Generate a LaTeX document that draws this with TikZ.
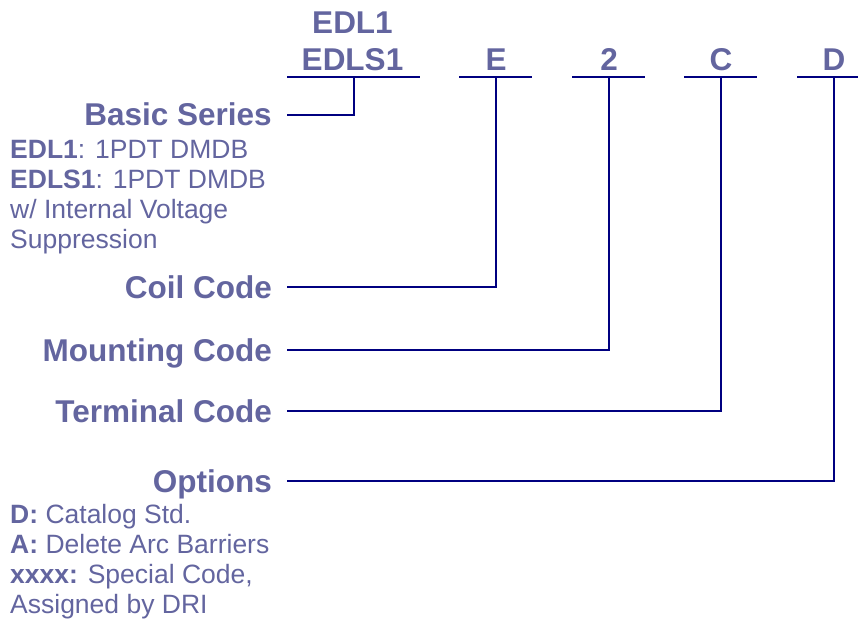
\documentclass[tikz,border=0pt]{standalone}
\usepackage{fontspec}
\setmainfont{Liberation Sans}
\definecolor{txt}{HTML}{63659F}
\definecolor{ln}{HTML}{000080}
\begin{document}
\begin{tikzpicture}[x=1pt,y=-1pt,
  head/.style={inner sep=0pt,text=txt,font=\fontsize{31.5}{36}\selectfont\bfseries},
  body/.style={inner sep=0pt,text=txt,font=\fontsize{26.5}{30}\selectfont,anchor=base west},
  wire/.style={draw=ln,line width=2.2pt}]
\useasboundingbox (0,0) rectangle (858,624);
% top code labels
\node[head,anchor=base] (t0) at (352.5,33) {EDL1};
\node[head,anchor=base] (t1) at (352.5,70) {EDLS1};
\node[head,anchor=base] (tE) at (496,70) {E};
\node[head,anchor=base] (t2) at (609,70) {2};
\node[head,anchor=base] (tC) at (721,70) {C};
\node[head,anchor=base] (tD) at (834,70) {D};
% underlines
\coordinate (u1a) at (287,77); \coordinate (u1b) at (420,77);
\coordinate (uEa) at (459,77); \coordinate (uEb) at (532,77);
\coordinate (u2a) at (572,77); \coordinate (u2b) at (645,77);
\coordinate (uCa) at (684,77); \coordinate (uCb) at (757,77);
\coordinate (uDa) at (797,77); \coordinate (uDb) at (858,77);
\draw[wire] (u1a) -- (u1b);
\draw[wire] (uEa) -- (uEb);
\draw[wire] (u2a) -- (u2b);
\draw[wire] (uCa) -- (uCb);
\draw[wire] (uDa) -- (uDb);
% headings
\node[head,anchor=base east] (hB) at (272,125.5) {Basic Series};
\node[head,anchor=base east] (hE) at (272,298.5) {Coil Code};
\node[head,anchor=base east] (h2) at (272,361.5) {Mounting Code};
\node[head,anchor=base east] (hC) at (272,422.5) {Terminal Code};
\node[head,anchor=base east] (hD) at (272,492) {Options};
% connector start points
\coordinate (sB) at (287,115); \coordinate (vB) at (354,77);
\coordinate (sE) at (287,287); \coordinate (vE) at (496,77);
\coordinate (s2) at (287,350); \coordinate (v2) at (609,77);
\coordinate (sC) at (287,411); \coordinate (vC) at (721,77);
\coordinate (sD) at (287,481); \coordinate (vD) at (834,77);
\draw[wire] (sB) -| (vB);
\draw[wire] (sE) -| (vE);
\draw[wire] (s2) -| (v2);
\draw[wire] (sC) -| (vC);
\draw[wire] (sD) -| (vD);
% body texts
\node[body] (b1) at (10,158) {\textbf{EDL1}: 1PDT DMDB};
\node[body] (b2) at (10,188) {\textbf{EDLS1}: 1PDT DMDB};
\node[body] (b3) at (10,218) {w/ Internal Voltage};
\node[body] (b4) at (10,248) {Suppression};
\node[body] (o1) at (10,523) {\textbf{D:} Catalog Std.};
\node[body] (o2) at (10,553) {\textbf{A:} Delete Arc Barriers};
\node[body] (o3) at (10,583) {\textbf{xxxx:} Special Code,};
\node[body] (o4) at (10,613) {Assigned by DRI};
\end{tikzpicture}
\end{document}
